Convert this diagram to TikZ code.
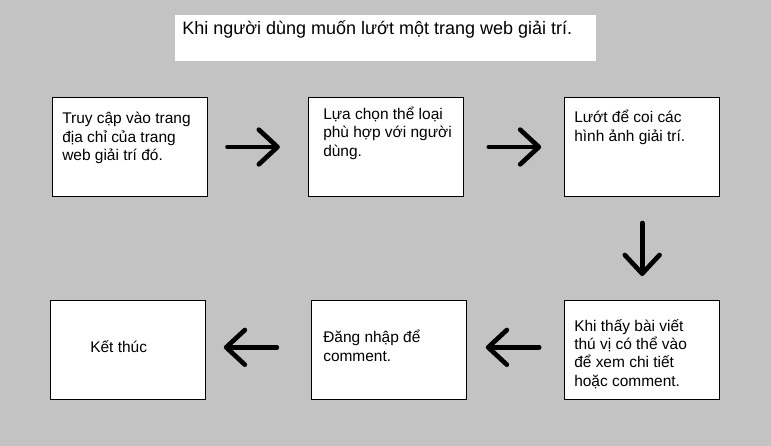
\documentclass[tikz,border=0pt]{standalone}
\usepackage{fontspec}
\setmainfont{Liberation Sans}
\usetikzlibrary{positioning,arrows.meta}
\definecolor{bggray}{RGB}{195,195,195}

\begin{document}
\begin{tikzpicture}
  [x=0.75pt,y=-0.75pt,node distance=75.25pt,
   stepBox/.style={draw,fill=white,line width=0.75pt,minimum width=116.25pt,minimum height=74.25pt,inner sep=0pt},
   titleBox/.style={fill=white,minimum width=315.75pt,minimum height=34.5pt,inner sep=0pt},
   stepText/.style={anchor=base west,align=left,inner sep=0pt,font=\fontsize{11.6}{13.7}\selectfont},
   flowArrow/.style={-{Straight Barb[round,length=14pt,width=26pt]},line width=3.5pt,line cap=round},
  ]

 \fill[bggray] (0,0) rectangle (771,446);
 \useasboundingbox (0,0) rectangle (771,446);

 % title
 \node[titleBox] (title) at (385.5,38) {};
 \node[stepText,font=\fontsize{13.5}{16}\selectfont] (titleText) at (182,34) {Khi người dùng muốn lướt một trang web giải trí.};

 % steps
 \node[stepBox] (b1) at (129.5,147) {};
 \node[stepBox] (b2) [right=of b1] {};
 \node[stepBox] (b3) [right=of b2] {};
 \node[stepBox] (b6) [below=77.25pt of b3] {};
 \node[stepBox] (b5) [left=73pt of b6] {};
 \node[stepBox] (b4) [left=78.75pt of b5] {};

 % texts, placed by the baseline of their last line
 \node[stepText] (t1) at (62,160.5) {Truy cập vào trang\\địa chỉ của trang\\web giải trí đó.};
 \node[stepText] (t2) at (323,156) {Lựa chọn thể loại\\phù hợp với người\\dùng.};
 \node[stepText] (t3) at (574,141) {Lướt để coi các\\hình ảnh giải trí.};
 \node[stepText] (t6) at (574,386) {Khi thấy bài viết\\thú vị có thể vào\\để xem chi tiết\\hoặc comment.};
 \node[stepText] (t5) at (323,361) {Đăng nhập để\\comment.};
 \node[stepText] (t4) at (90,352) {Kết thúc};

 \draw[flowArrow,shorten <=15pt,shorten >=21pt] (b1.east) -- (b2.west);
 \draw[flowArrow,shorten <=18.75pt,shorten >=17.25pt] (b2.east) -- (b3.west);
 \draw[flowArrow,shorten <=19.5pt,shorten >=18pt] (b3.south) -- (b6.north);
 \draw[flowArrow,shorten <=18.75pt,shorten >=14.25pt] ([yshift=2pt]b6.west) -- ([yshift=2pt]b5.east);
 \draw[flowArrow,shorten <=25.5pt,shorten >=13.5pt] ([yshift=2pt]b5.west) -- ([yshift=2pt]b4.east);

\end{tikzpicture}
\end{document}
